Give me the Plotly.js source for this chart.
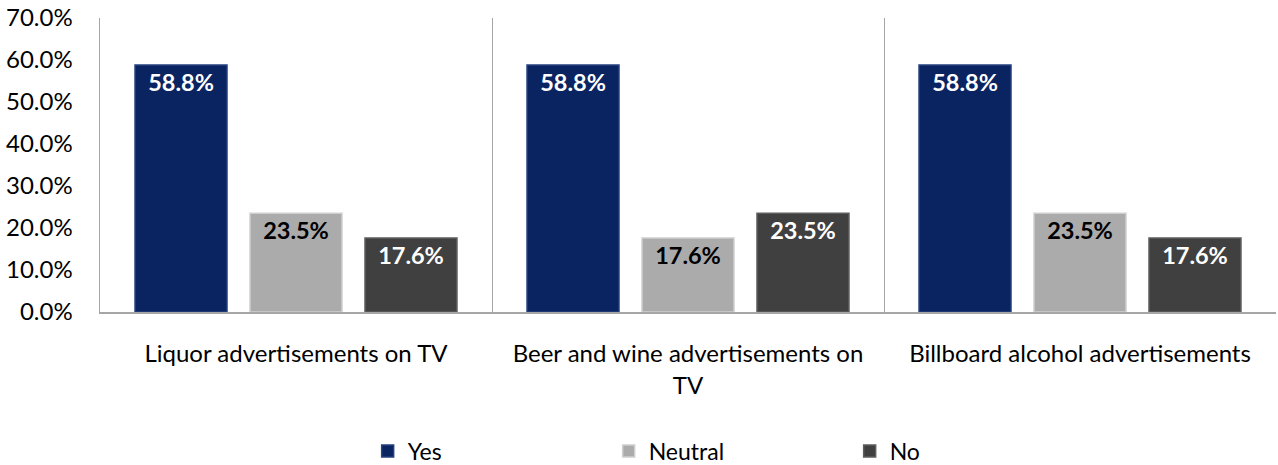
<!DOCTYPE html>
<html>
<head>
<meta charset="utf-8">
<script src="https://cdn.plot.ly/plotly-3.0.1.min.js"></script>
<style>html,body{margin:0;padding:0;background:#fff;}#chart{width:1278px;height:465px;}</style>
</head>
<body>
<div id="chart"></div>
<script>
const categories = ["Liquor advertisements on TV", "Beer and wine advertisements on<br>TV", "Billboard alcohol advertisements"];
const yesValues = [0.588, 0.588, 0.588];
const neutralValues = [0.235, 0.176, 0.235];
const noValues = [0.176, 0.235, 0.176];
const seriesNames = ["Yes", "Neutral", "No"];

const colors = ["#0a2461", "#ababab", "#404040"];
const lineColors = ["#24407e", "#cfcfcf", "#5e5e5e"];
const textColors = ["#ffffff", "#000000", "#ffffff"];
const allValues = [yesValues, neutralValues, noValues];

const traces = allValues.map((vals, i) => ({
  type: "bar",
  name: seriesNames[i],
  x: categories,
  y: vals,
  marker: {color: colors[i], line: {color: lineColors[i], width: 1.5}},
  texttemplate: "%{y:.1%}",
  textposition: "inside",
  insidetextanchor: "end",
  constraintext: "none",
  textangle: 0,
  textfont: {family: "Lato, 'Open Sans', sans-serif", size: 23.5, color: textColors[i], weight: "bold"},
  hoverinfo: "skip"
}));

const layout = {
  width: 1278, height: 465,
  margin: {l: 100, r: 2, t: 18, b: 153, autoexpand: false},
  paper_bgcolor: "#fff", plot_bgcolor: "#fff",
  barmode: "group",
  bargap: 0.12,
  bargroupgap: 0.2,
  font: {family: "Lato, 'Open Sans', sans-serif", size: 24, color: "#000"},
  xaxis: {
    type: "category",
    tickson: "boundaries",
    showgrid: true, gridcolor: "#a6a6a6", gridwidth: 1,
    showline: true, linecolor: "#a6a6a6", linewidth: 1.5,
    ticks: "", ticklabelstandoff: 20,
    automargin: false,
    tickfont: {size: 24}
  },
  yaxis: {
    range: [0, 0.7], dtick: 0.1, tickformat: ".1%",
    showgrid: false, zeroline: false,
    showline: true, linecolor: "#a6a6a6", linewidth: 1.5,
    ticks: "", ticklabelstandoff: 21,
    automargin: false,
    tickfont: {size: 24}
  },
  legend: {
    orientation: "h", x: 0.535, xanchor: "center", y: -0.40, yanchor: "top",
    entrywidth: 196, itemwidth: 30,
    font: {size: 23}
  },
  showlegend: true
};

Plotly.newPlot("chart", traces, layout, {displayModeBar: false, staticPlot: true});
</script>
</body>
</html>
